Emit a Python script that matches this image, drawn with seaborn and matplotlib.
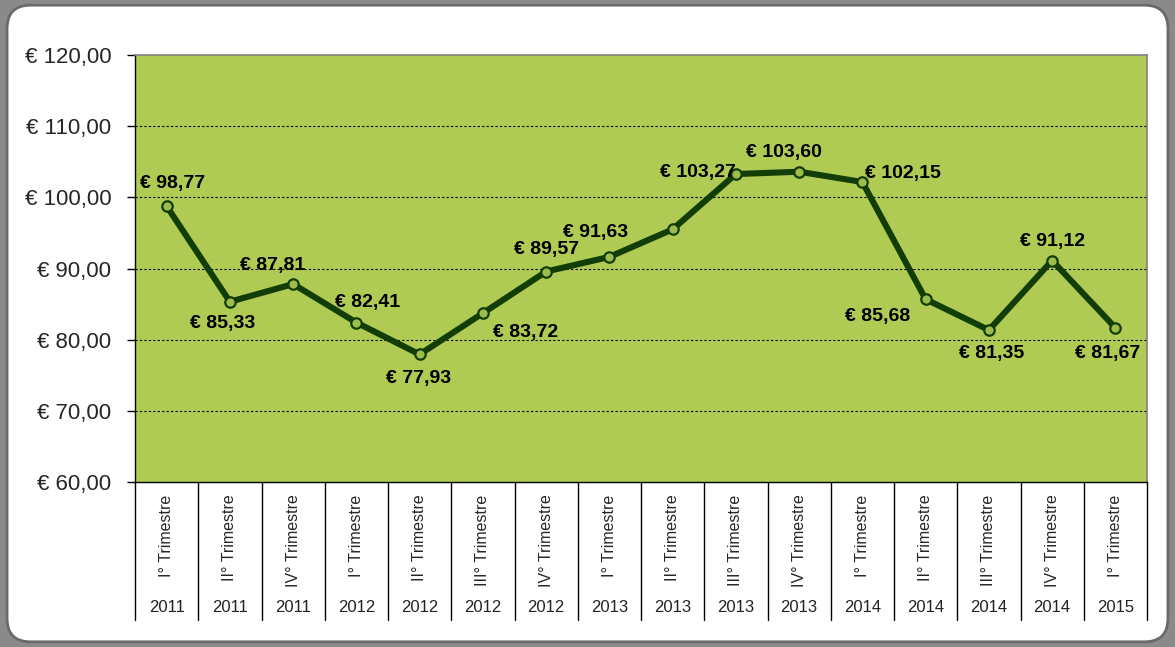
import pandas as pd
import matplotlib.pyplot as plt
import matplotlib.transforms as mtransforms
from matplotlib.patches import FancyBboxPatch
from matplotlib.lines import Line2D
import seaborn as sns

# data
quarters = ["I° Trimestre", "II° Trimestre", "IV° Trimestre", "I° Trimestre",
            "II° Trimestre", "III° Trimestre", "IV° Trimestre", "I° Trimestre",
            "II° Trimestre", "III° Trimestre", "IV° Trimestre", "I° Trimestre",
            "II° Trimestre", "III° Trimestre", "IV° Trimestre", "I° Trimestre"]
years = ["2011", "2011", "2011", "2012", "2012", "2012", "2012", "2013",
         "2013", "2013", "2013", "2014", "2014", "2014", "2014", "2015"]
prices = [98.77, 85.33, 87.81, 82.41, 77.93, 83.72, 89.57, 91.63,
          95.50, 103.27, 103.60, 102.15, 85.68, 81.35, 91.12, 81.67]
# which points carry a value label (the 2013 II° point has none)
labelled = [True] * 8 + [False] + [True] * 7

# label offsets in pixels relative to the point
offsets = [(6, 23), (-7, -22), (-20, 19), (11, 20), (-1, -24), (43, -19),
           (0, 22), (-14, 24), (0, 0), (-38, 2), (-15, 19), (41, 9),
           (-48, -17), (3, -23), (0, 19), (-8, -26)]

df = pd.DataFrame({"pos": range(len(prices)), "price": prices})

sns.set_style("white")
plt.rcParams["font.family"] = ["Liberation Sans", "DejaVu Sans"]


def euro(v):
    return "€ " + f"{v:.2f}".replace(".", ",")


fig = plt.figure(figsize=(11.75, 6.47), dpi=100)
fig.patch.set_facecolor("#8a8a8a")
frame = FancyBboxPatch((0.006, 0.008), 0.988, 0.984,
                       boxstyle="round,pad=0,rounding_size=0.02",
                       transform=fig.transFigure, facecolor="white",
                       edgecolor="#6a6a6a", linewidth=2.0,
                       mutation_aspect=1175 / 647, zorder=-10)
fig.patches.append(frame)

ax = fig.add_axes([135 / 1175, 1 - 482 / 647, (1147 - 135) / 1175, (482 - 55) / 647])
ax.set_facecolor("#afcb54")

sns.lineplot(data=df, x="pos", y="price", ax=ax, color="#123d06",
             linewidth=4.4, marker="o", markersize=7.5,
             markerfacecolor="#9cbd4c", markeredgecolor="#123d06",
             markeredgewidth=1.6, zorder=3)

ax.set_xlim(-0.5, len(prices) - 0.5)
ax.set_ylim(60, 120)
ax.set_yticks(range(60, 121, 10))
ax.set_yticklabels([euro(v) for v in range(60, 121, 10)], fontsize=16)
ax.tick_params(axis="y", direction="out", length=6, width=1, color="black",
               pad=11, left=True)
for y in range(70, 120, 10):
    ax.axhline(y, color="black", linewidth=0.8, linestyle=(0, (2, 2)), zorder=1)

ax.set_xticks(range(len(prices)))
ax.set_xticklabels(quarters, rotation=90, fontsize=11.5, va="top", ha="center")
ax.tick_params(axis="x", length=0, pad=9)
ax.set_xlabel("")
ax.set_ylabel("")

for side in ["top", "right"]:
    ax.spines[side].set_color("#808080")
    ax.spines[side].set_linewidth(1.2)
for side in ["left", "bottom"]:
    ax.spines[side].set_color("black")
    ax.spines[side].set_linewidth(1.0)

trans = mtransforms.blended_transform_factory(ax.transData, ax.transAxes)
for i in range(len(prices) + 1):
    ax.add_line(Line2D([i - 0.5, i - 0.5], [0, -0.323], transform=trans,
                       color="black", linewidth=1.0, clip_on=False))
for i, yr in enumerate(years):
    ax.text(i, -0.295, yr, transform=trans, ha="center", va="center",
            fontsize=12, color="#222222")

for i, (v, show) in enumerate(zip(prices, labelled)):
    if not show:
        continue
    dx, dy = offsets[i]
    ax.annotate(euro(v), (i, v), xytext=(dx, dy), textcoords="offset pixels",
                ha="center", va="center", fontsize=14, fontweight="bold",
                color="black", zorder=4)

fig.savefig("out.png", dpi=100, facecolor=fig.get_facecolor())
